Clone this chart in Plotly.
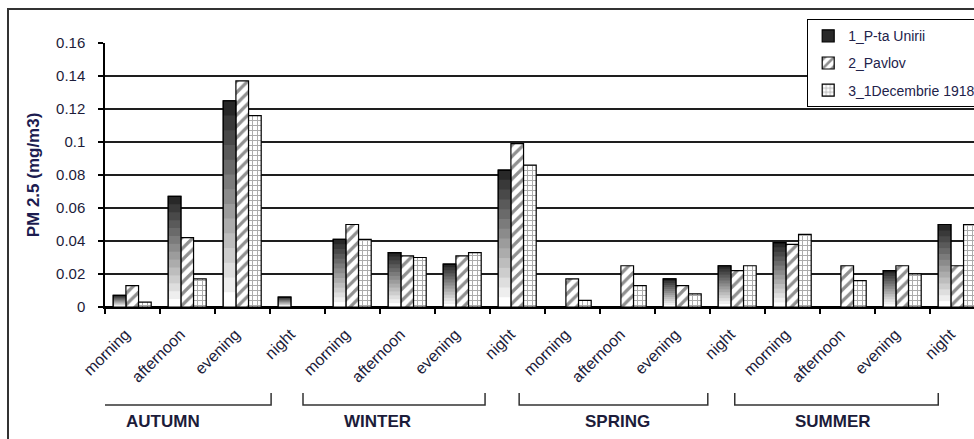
import plotly.graph_objects as go

# ---------------- data ----------------
time_labels = ["morning", "afternoon", "evening", "night"] * 4
seasons = ["AUTUMN", "WINTER", "SPRING", "SUMMER"]
series_names = ["1_P-ta Unirii", "2_Pavlov", "3_1Decembrie 1918"]

p_ta_unirii = [0.007, 0.067, 0.125, 0.006,
               0.041, 0.033, 0.026, 0.083,
               0.0, 0.0, 0.017, 0.025,
               0.039, 0.0, 0.022, 0.050]
pavlov = [0.013, 0.042, 0.137, 0.0,
          0.050, 0.031, 0.031, 0.099,
          0.017, 0.025, 0.013, 0.022,
          0.038, 0.025, 0.025, 0.025]
decembrie = [0.003, 0.017, 0.116, 0.0,
             0.041, 0.030, 0.033, 0.086,
             0.004, 0.013, 0.008, 0.025,
             0.044, 0.016, 0.020, 0.050]

y_tick_vals = [0, 0.02, 0.04, 0.06, 0.08, 0.1, 0.12, 0.14, 0.16]
y_tick_text = ["0", "0.02", "0.04", "0.06", "0.08", "0.1", "0.12", "0.14", "0.16"]

# ---------------- style ----------------
FONT = "Liberation Sans, Arial, sans-serif"
TXT = "#1c1c3a"
W = 0.23
offsets = [-0.35, -0.12, 0.11]
x = list(range(len(time_labels)))

fig = go.Figure()

N_LAYERS = 14
def grey(t):
    c0, c1 = 40, 255
    v = int(round(c0 + (c1 - c0) * t))
    return f"rgb({v},{v},{v})"

fig.add_trace(go.Bar(x=x, y=p_ta_unirii, name=series_names[0], legendgroup="s1",
                     width=W, offset=offsets[0],
                     marker=dict(color=grey(0), line=dict(color="black", width=1.2))))
fig.add_trace(go.Bar(x=x, y=pavlov, name=series_names[1], legendgroup="s2",
                     width=W, offset=offsets[1],
                     marker=dict(color="white", line=dict(color="black", width=1.2),
                                 pattern=dict(shape="/", fgcolor="#222", bgcolor="white",
                                              size=8, solidity=0.4))))
fig.add_trace(go.Bar(x=x, y=decembrie, name=series_names[2], legendgroup="s3",
                     width=W, offset=offsets[2],
                     marker=dict(color="white", line=dict(color="black", width=1.2),
                                 pattern=dict(shape="+", fgcolor="#555", bgcolor="white",
                                              size=5, solidity=0.35))))
for k in range(1, N_LAYERS):
    frac = 1 - k / N_LAYERS
    fig.add_trace(go.Bar(x=x, y=[v * frac for v in p_ta_unirii], width=W, offset=offsets[0],
                         legendgroup="s1",
                         marker=dict(color=grey(k / (N_LAYERS - 1)), line=dict(width=0)),
                         showlegend=False, hoverinfo="skip"))
fig.add_trace(go.Bar(x=x, y=p_ta_unirii, width=W, offset=offsets[0], legendgroup="s1",
                     marker=dict(color="rgba(0,0,0,0)", line=dict(color="black", width=1.2)),
                     showlegend=False, hoverinfo="skip"))

# ---------------- layout ----------------
fig.update_layout(
    width=974, height=439,
    margin=dict(l=105, r=0, t=43, b=132, autoexpand=False),
    barmode="overlay",
    paper_bgcolor="white", plot_bgcolor="white",
    font=dict(family=FONT, color=TXT),
    showlegend=True,
    legend=dict(x=(807 - 105) / 869, y=(307 - 19) / 264, xanchor="left", yanchor="top",
                bgcolor="white", bordercolor="black", borderwidth=1.2,
                font=dict(size=14, family=FONT, color="#22224a"),
                tracegroupgap=6, itemwidth=30, groupclick="toggleitem"),
    xaxis=dict(range=[-0.5, 15.3], tickmode="array", tickvals=x, ticktext=time_labels,
               tickangle=-45, ticks="", showgrid=False, zeroline=False,
               showline=True, linecolor="black", linewidth=1.5,
               tickfont=dict(size=16, family=FONT, color=TXT),
               ticklabelstandoff=10, ticklabelshift=-7,
               minor=dict(tickmode="linear", tick0=-0.5, dtick=1, ticks="outside", ticklen=5,
                          tickcolor="black", tickwidth=1.5, showgrid=False)),
    yaxis=dict(range=[0, 0.16], tickmode="array", tickvals=y_tick_vals, ticktext=y_tick_text,
               ticks="outside", ticklen=5, tickcolor="black", tickwidth=1.5,
               showgrid=True, gridcolor="#1e1e1e", gridwidth=1.5,
               zeroline=True, zerolinecolor="black", zerolinewidth=1.5,
               showline=True, linecolor="black", linewidth=1.5,
               tickfont=dict(size=15, family=FONT, color=TXT),
               ticklabelstandoff=10,
               title=dict(text="<b>PM 2.5 (mg/m3)</b>", standoff=12,
                          font=dict(size=17, family=FONT, color="#1c1c50"))),
)

# outer chart frame
fig.add_shape(type="rect", xref="paper", yref="paper",
              x0=(8 - 105) / 869, x1=(990 - 105) / 869,
              y0=(307 - 450) / 264, y1=(307 - 9) / 264,
              line=dict(color="#333", width=2), fillcolor="rgba(0,0,0,0)", layer="below")

# season brackets
brackets = [(-0.936, 2.52, 0.555), (3.10, 6.41, 4.45), (7.03, 10.46, 8.81), (10.95, 14.65, 12.74)]
yb_top = (307 - 393) / 264
yb_bot = (307 - 405) / 264
for (a, b, c), s in zip(brackets, seasons):
    fig.add_shape(type="path", xref="x", yref="paper",
                  path=f"M {a},{yb_top} L {a},{yb_bot} L {b},{yb_bot} L {b},{yb_top}",
                  line=dict(color="#333", width=1.5))
    fig.add_annotation(x=c, y=(307 - 421) / 264, xref="x", yref="paper", text=f"<b>{s}</b>",
                       showarrow=False, font=dict(size=17, family=FONT, color=TXT),
                       xanchor="center", yanchor="middle")

fig.write_html("out.html", config={"displayModeBar": False},
               post_script="document.body.style.margin='0';document.body.style.overflow='hidden';")
